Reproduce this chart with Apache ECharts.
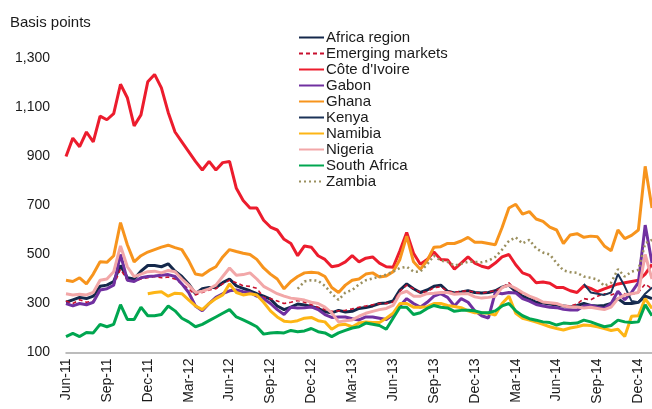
<!DOCTYPE html>
<html>
<head>
<meta charset="utf-8">
<script src="https://cdn.jsdelivr.net/npm/echarts@6/dist/echarts.min.js"></script>
<style>
  html, body { margin: 0; padding: 0; background: #fff; }
  #chart { width: 652px; height: 409px; }
</style>
</head>
<body>
<div id="chart"></div>
<script>
// x tick labels, one every quarter (6 half-month steps)
const xTickLabels = ['Jun-11', 'Sep-11', 'Dec-11', 'Mar-12', 'Jun-12', 'Sep-12', 'Dec-12', 'Mar-13',
  'Jun-13', 'Sep-13', 'Dec-13', 'Mar-14', 'Jun-14', 'Sep-14', 'Dec-14'];
const yTicks = [100, 300, 500, 700, 900, 1100, 1300];

// half-monthly observations, 1 Jun 2011 .. end Dec 2014
const africaRegion = [305, 315, 325, 320, 330, 370, 375, 390, 455, 405, 400, 432, 455, 455, 450, 462, 432, 410, 380, 340,
  360, 365, 365, 385, 400, 372, 362, 352, 340, 330, 318, 290, 275, 285, 298, 294, 288, 280, 266, 262,
  272, 265, 268, 280, 284, 290, 300, 302, 310, 355, 380, 360, 345, 355, 370, 375, 350, 343, 347, 352,
  345, 343, 345, 352, 367, 375, 348, 330, 318, 305, 302, 298, 294, 290, 286, 292, 300, 292, 290, 292,
  300, 320, 300, 300, 305, 330, 320];
const emergingMarkets = [310, 300, 315, 305, 310, 355, 360, 375, 440, 395, 390, 400, 405, 410, 405, 408, 400, 380, 360, 335,
  345, 355, 360, 380, 395, 385, 372, 370, 362, 325, 320, 310, 300, 305, 312, 305, 295, 285, 275, 268,
  270, 272, 278, 285, 290, 295, 300, 300, 305, 350, 375, 360, 345, 348, 365, 368, 350, 345, 350, 352,
  345, 342, 348, 352, 365, 385, 355, 340, 330, 315, 305, 302, 295, 292, 290, 298, 320, 315, 330, 340,
  335, 345, 340, 338, 345, 380, 360];
const coteDIvoire = [900, 975, 940, 1000, 960, 1065, 1050, 1075, 1195, 1140, 1025, 1070, 1205, 1235, 1180, 1080, 1000, 960, 920, 880,
  845, 880, 845, 875, 880, 770, 720, 690, 690, 640, 612, 600, 562, 545, 495, 535, 530, 495, 480, 450,
  455, 470, 495, 470, 485, 490, 465, 450, 448, 515, 590, 505, 460, 480, 510, 480, 478, 440, 465, 490,
  465, 452, 445, 465, 490, 500, 458, 425, 415, 385, 388, 383, 365, 365, 352, 345, 372, 362, 348, 360,
  370, 380, 385, 390, 395, 420, 460];
const gabon = [300, 290, 300, 295, 305, 355, 360, 375, 500, 395, 390, 405, 410, 412, 415, 418, 410, 380, 345, 290,
  270, 300, 325, 340, 352, 355, 348, 345, 330, 320, 300, 275, 255, 285, 282, 283, 286, 275, 255, 243,
  245, 245, 238, 233, 245, 245, 240, 235, 255, 290, 320, 300, 285, 305, 330, 340, 325, 290, 320, 305,
  270, 250, 241, 345, 340, 345, 343, 320, 310, 296, 290, 285, 283, 276, 273, 273, 290, 292, 285, 280,
  300, 350, 315, 345, 385, 620, 465];
const ghana = [395, 390, 405, 380, 420, 470, 468, 495, 630, 540, 470, 495, 510, 520, 530, 538, 528, 520, 475, 420,
  415, 435, 450, 490, 520, 512, 505, 500, 480, 445, 420, 400, 360, 390, 410, 425, 428, 425, 410, 365,
  345, 375, 395, 400, 420, 425, 408, 412, 430, 480, 575, 470, 440, 475, 530, 532, 545, 545, 555, 570,
  550, 550, 545, 540, 610, 690, 705, 665, 675, 645, 635, 612, 600, 545, 580, 585, 570, 575, 572, 535,
  515, 600, 565, 578, 600, 860, 690];
const kenya = [null, null, null, null, null, null, null, null, null, null, null, null, null, null, null, null, null, null, null, null,
  null, null, null, null, null, null, null, null, null, null, null, null, null, null, null, null, null, null, null, null,
  null, null, null, null, null, null, null, null, null, null, null, null, null, null, null, null, null, null, null, null,
  null, null, null, null, null, null, null, null, null, null, null, null, null, null, null, null, 380, 345, 340, 335,
  345, 420, 370, 310, 305, 340, 365];
const namibia = [null, null, null, null, null, null, null, null, null, null, null, null, 340, 345, 348, 330, 342, 340, 315, 290,
  275, 300, 320, 335, 380, 345, 335, 340, 335, 305, 270, 245, 228, 225, 230, 240, 243, 230, 225, 195,
  212, 215, 205, 220, 225, 222, 222, 240, 260, 300, 300, 285, 285, 287, 300, 300, 292, 288, 283, 270,
  262, 262, 260, 253, 300, 330, 260, 240, 232, 224, 215, 205, 198, 192, 200, 205, 212, 210, 205, 198,
  190, 195, 165, 248, 250, 320, 280];
const nigeria = [340, 335, 338, 335, 345, 395, 400, 430, 535, 450, 410, 420, 430, 432, 425, 435, 430, 400, 375, 345,
  350, 360, 375, 410, 445, 415, 418, 425, 400, 370, 355, 340, 330, 322, 318, 314, 305, 300, 285, 262,
  225, 230, 233, 248, 260, 268, 275, 280, 292, 340, 350, 330, 330, 340, 342, 345, 345, 338, 340, 340,
  327, 322, 325, 330, 365, 375, 362, 345, 330, 320, 306, 303, 300, 290, 286, 286, 282, 285, 280, 275,
  285, 320, 335, 340, 345, 500, 400];
const southAfrica = [165, 178, 165, 182, 180, 215, 205, 215, 295, 235, 235, 285, 250, 250, 255, 290, 270, 240, 225, 205,
  215, 230, 245, 260, 275, 245, 233, 220, 205, 175, 180, 182, 180, 190, 185, 188, 198, 185, 180, 165,
  180, 190, 200, 205, 220, 215, 210, 195, 240, 285, 285, 255, 262, 280, 292, 285, 282, 268, 272, 272,
  270, 262, 262, 270, 290, 300, 270, 250, 238, 232, 225, 222, 212, 220, 218, 220, 232, 225, 215, 205,
  210, 232, 225, 222, 225, 295, 250];
const zambia = [null, null, null, null, null, null, null, null, null, null, null, null, null, null, null, null, null, null, null, null,
  null, null, null, null, null, null, null, null, null, null, null, null, null, null, 360, 390, 395, 393, 372, 340,
  315, 345, 355, 378, 395, 402, 410, 418, 430, 445, 450, 430, 430, 460, 495, 475, 470, 455, 462, 470,
  470, 468, 475, 490, 520, 555, 570, 545, 560, 525, 508, 500, 465, 435, 428, 425, 410, 405, 398, 372,
  385, 440, 410, 430, 437, 545, 560];

// category axis: 1st and 16th of each month, plus month end of Dec-14
const categories = [];
for (let y = 2011, m = 5; y < 2015; m++) {
  if (m === 12) { m = 0; y++; }
  if (y === 2015) break;
  const mm = String(m + 1).padStart(2, '0');
  categories.push(y + '-' + mm + '-01', y + '-' + mm + '-16');
}
categories.push('2014-12-31');

const seriesDefs = [
  { name: 'Africa region', data: africaRegion, color: '#14284B', width: 3 },
  { name: 'Emerging markets', data: emergingMarkets, color: '#C8102E', width: 1.6, type: [4, 3] },
  { name: "Côte d'Ivoire", data: coteDIvoire, color: '#EC1C2D', width: 3 },
  { name: 'Gabon', data: gabon, color: '#7030A0', width: 3 },
  { name: 'Ghana', data: ghana, color: '#F7941D', width: 3 },
  { name: 'Kenya', data: kenya, color: '#1B3358', width: 2 },
  { name: 'Namibia', data: namibia, color: '#FDB515', width: 3 },
  { name: 'Nigeria', data: nigeria, color: '#F2A7A8', width: 3 },
  { name: 'South Africa', data: southAfrica, color: '#00A650', width: 3 },
  { name: 'Zambia', data: zambia, color: '#9A8F5E', width: 2.5, type: [2, 3] }
];

const chart = echarts.init(document.getElementById('chart'), null, { renderer: 'canvas' });
const fontFamily = 'Liberation Sans, Arial, sans-serif';

const option = {
  animation: false,
  backgroundColor: '#fff',
  textStyle: { fontFamily: fontFamily },
  title: {
    text: 'Basis points',
    left: 5,
    top: 10,
    textStyle: { fontSize: 15, fontWeight: 'normal', color: '#1a1a1a', fontFamily: fontFamily }
  },
  legend: {
    orient: 'vertical',
    left: 298,
    top: 30,
    padding: 0,
    itemWidth: 25,
    itemHeight: 10,
    itemGap: 1,
    itemStyle: { opacity: 0 },
    textStyle: { fontSize: 15, lineHeight: 14, color: '#1a1a1a', padding: [0, 0, 0, -3] },
    data: seriesDefs.map(s => s.name)
  },
  grid: { left: 66, right: 0, top: 58.5, bottom: 56.5, containLabel: false },
  xAxis: {
    type: 'category',
    data: categories,
    boundaryGap: false,
    axisLine: { lineStyle: { color: '#A6A6A6', width: 1.5 } },
    axisTick: { show: false },
    axisLabel: {
      rotate: 90,
      margin: 6,
      fontSize: 14,
      color: '#1a1a1a',
      interval: (idx) => idx % 6 === 0,
      formatter: (val, idx) => xTickLabels[idx / 6] || ''
    },
    splitLine: { show: false }
  },
  yAxis: {
    type: 'value',
    min: yTicks[0],
    max: yTicks[yTicks.length - 1],
    interval: 200,
    axisLine: { show: false },
    axisTick: { show: false },
    splitLine: { show: false },
    axisLabel: {
      margin: 16,
      fontSize: 14,
      color: '#1a1a1a',
      formatter: (v) => v.toLocaleString('en-US')
    }
  },
  series: seriesDefs.map(s => ({
    name: s.name,
    type: 'line',
    data: s.data,
    symbol: 'none',
    showSymbol: false,
    connectNulls: false,
    color: s.color,
    lineStyle: { color: s.color, width: s.width, type: s.type || 'solid' }
  }))
};

chart.setOption(option);
</script>
</body>
</html>
